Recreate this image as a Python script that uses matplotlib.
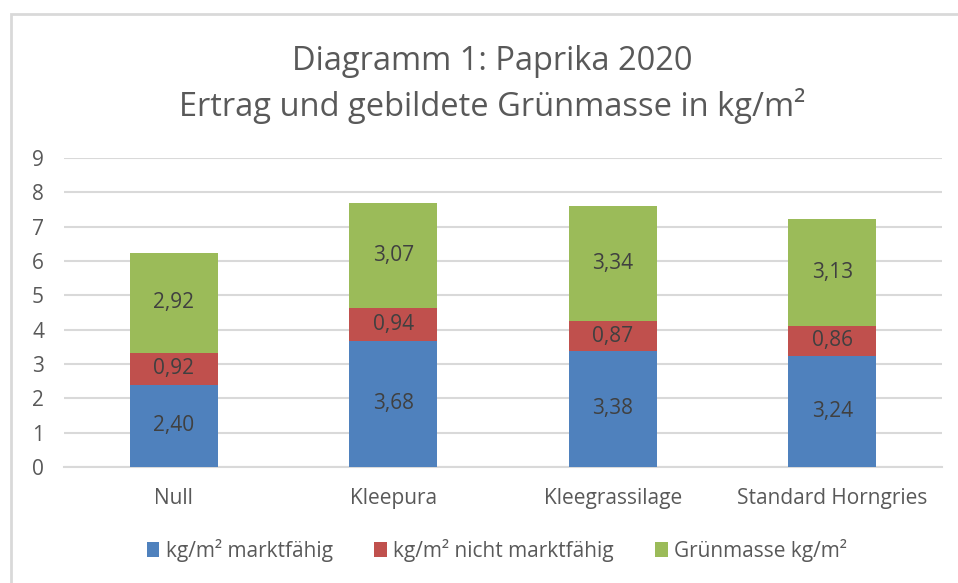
import numpy as np
import matplotlib.pyplot as plt
from matplotlib.patches import Rectangle

# Chart data
categories = ['Null', 'Kleepura', 'Kleegrassilage', 'Standard Horngries']
marktfaehig = [2.40, 3.68, 3.38, 3.24]
nicht_marktfaehig = [0.92, 0.94, 0.87, 0.86]
gruenmasse = [2.92, 3.07, 3.34, 3.13]
series_names = ['kg/m² marktfähig', 'kg/m² nicht marktfähig', 'Grünmasse kg/m²']
colors = ['#4F81BD', '#C0504D', '#9BBB59']

plt.rcParams['font.family'] = ['Open Sans', 'DejaVu Sans']
text_col = '#595959'
fs = 15

fig = plt.figure(figsize=(9.58, 5.83), dpi=100, facecolor='white')
ax = fig.add_axes([64 / 958, 1 - 467 / 583, (942 - 64) / 958, (467 - 158) / 583])

# outer chart border (only top and left visible in the crop)
fig.patches.append(Rectangle((11 / 958, -0.1), 1.2, 1 - 14 / 583 + 0.1,
                             transform=fig.transFigure, fill=False,
                             edgecolor='#d9d9d9', linewidth=2))

x = np.arange(len(categories))
width = 0.4
bottom = np.zeros(len(categories))
for vals, name, col in zip([marktfaehig, nicht_marktfaehig, gruenmasse], series_names, colors):
    bars = ax.bar(x, vals, width, bottom=bottom, color=col, label=name, zorder=3)
    for b, v in zip(bars, vals):
        ax.text(b.get_x() + b.get_width() / 2, b.get_y() + b.get_height() / 2,
                f'{v:.2f}'.replace('.', ','), ha='center', va='center',
                fontsize=fs, color='#404040', zorder=4)
    bottom += np.array(vals)

ax.set_xlim(-0.5, 3.5)
ax.set_ylim(0, 9)
ax.set_yticks(range(10))
ax.set_xticks(x)
ax.set_xticklabels(categories)
ax.grid(axis='y', color='#d9d9d9', linewidth=1.5, zorder=0)
for s in ['top', 'right', 'left']:
    ax.spines[s].set_visible(False)
ax.spines['bottom'].set_color('#d9d9d9')
ax.spines['bottom'].set_linewidth(1.5)
ax.tick_params(axis='both', length=0, labelsize=fs, colors=text_col)
ax.tick_params(axis='x', pad=15)
ax.tick_params(axis='y', pad=23)
for lbl in ax.get_yticklabels():
    lbl.set_horizontalalignment('left')

fig.text(492 / 958, 1 - 61 / 583, 'Diagramm 1: Paprika 2020', ha='center', va='center',
         fontsize=23.5, color=text_col)
fig.text(492 / 958, 1 - 106 / 583, 'Ertrag und gebildete Grünmasse in kg/m²', ha='center',
         va='center', fontsize=23.5, color=text_col)

fig.legend(loc='center', bbox_to_anchor=(497 / 958, 1 - 550 / 583), ncol=3, frameon=False,
           fontsize=fs, labelcolor=text_col, handlelength=0.6, handleheight=0.7,
           handletextpad=0.3, columnspacing=2.0)

fig.savefig('out.png', dpi=100, facecolor='white')
